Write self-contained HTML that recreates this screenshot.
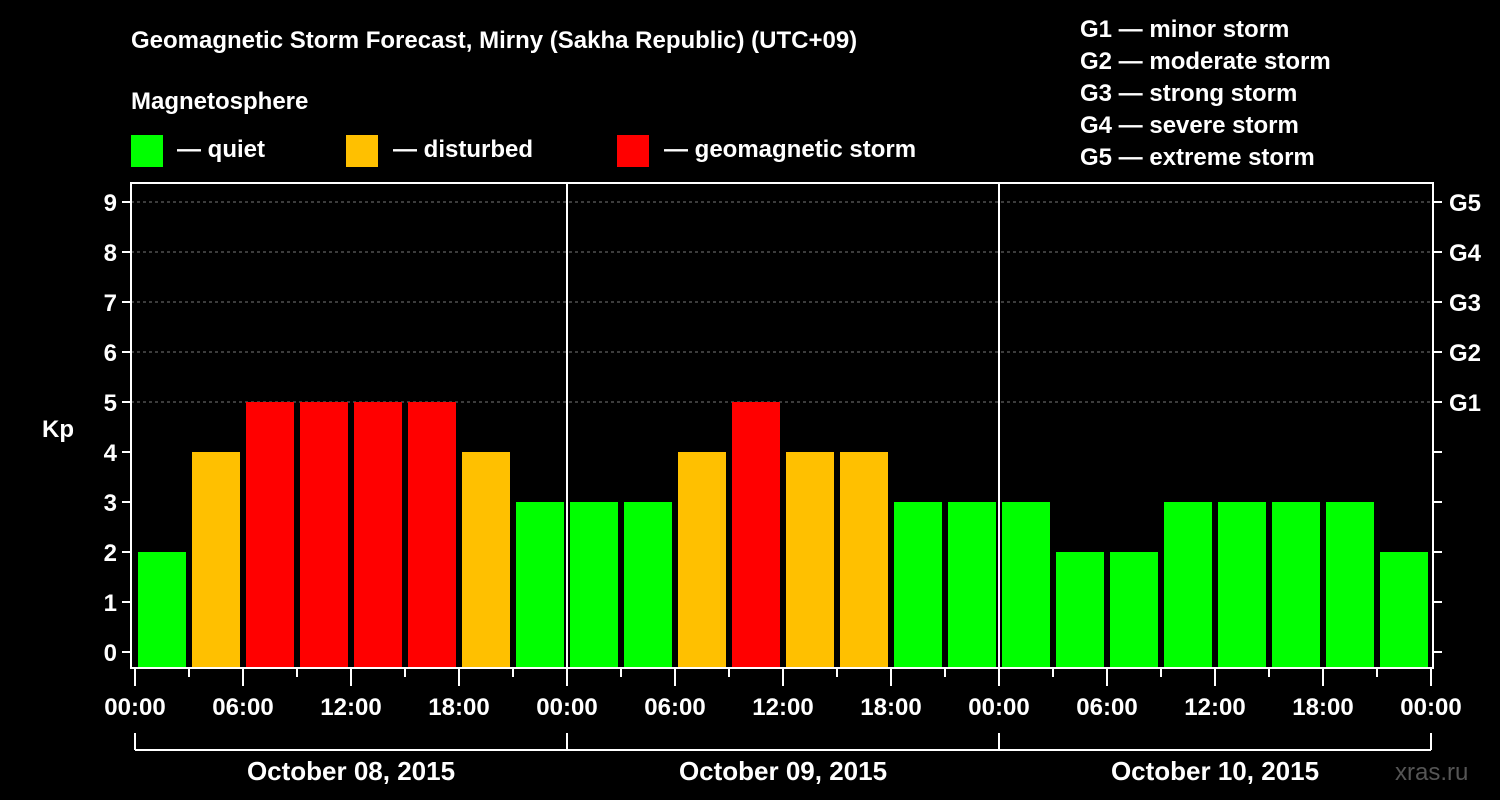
<!DOCTYPE html>
<html><head><meta charset="utf-8"><style>
body{margin:0;background:#000;width:1500px;height:800px;overflow:hidden}
svg{display:block}
text{font-family:"Liberation Sans",sans-serif;font-weight:bold;fill:#fff}
</style></head><body>
<svg id="c" width="1500" height="800">
<text x="131" y="48" font-size="24">Geomagnetic Storm Forecast, Mirny (Sakha Republic) (UTC+09)</text>
<text x="131" y="109" font-size="24">Magnetosphere</text>
<g>
<rect x="131" y="135" width="32" height="32" fill="#00ff00"/>
<text x="177" y="157" font-size="24">— quiet</text>
<rect x="346" y="135" width="32" height="32" fill="#ffc000"/>
<text x="393" y="157" font-size="24">— disturbed</text>
<rect x="617" y="135" width="32" height="32" fill="#ff0000"/>
<text x="664" y="157" font-size="24">— geomagnetic storm</text>
</g>
<g font-size="24">
<text x="1080" y="37">G1 — minor storm</text>
<text x="1080" y="69">G2 — moderate storm</text>
<text x="1080" y="101">G3 — strong storm</text>
<text x="1080" y="133">G4 — severe storm</text>
<text x="1080" y="165">G5 — extreme storm</text>
</g>
<text x="42" y="437" font-size="24">Kp</text>
<text x="1395" y="780" font-size="24" fill="#555" style="fill:#555;font-weight:normal">xras.ru</text>
<g id="plot"></g>
</svg>
<script>
const kpValues=[2,4,5,5,5,5,4,3, 3,3,4,5,4,4,3,3, 3,2,2,3,3,3,3,2];
const dayLabels=["October 08, 2015","October 09, 2015","October 10, 2015"];
const hourLabels=["00:00","06:00","12:00","18:00"];
const yTicks=[0,1,2,3,4,5,6,7,8,9];
const gLabels=["G1","G2","G3","G4","G5"];
const NS="http://www.w3.org/2000/svg";
const g=document.getElementById('plot');
const X0=135,PX_H=18,Y0=652,PX_K=50,BOT=668,TOP=183,L=131,R=1433;
const xs=h=>X0+h*PX_H, ys=v=>Y0-v*PX_K;
function mk(t,a){const e=document.createElementNS(NS,t);for(const k in a)e.setAttribute(k,a[k]);g.appendChild(e);return e;}
function col(v){return v>=5?'#ff0000':v>=4?'#ffc000':'#00ff00';}
// grid
for(let v=5;v<=9;v++){const e=mk('line',{x1:L,x2:R,y1:ys(v),y2:ys(v),stroke:'#777','stroke-dasharray':'3,3','stroke-width':1});

}
// bars
kpValues.forEach((v,i)=>{const b=mk('rect',{x:xs(i*3)+3,y:ys(v),width:3*PX_H-6,height:BOT-ys(v),fill:col(v)});

});
// day separators
for(let d=1;d<3;d++){const e=mk('line',{x1:xs(d*24),x2:xs(d*24),y1:TOP,y2:BOT,stroke:'#fff','stroke-width':2});

}
// frame
const fr=mk('rect',{x:L,y:TOP,width:R-L,height:BOT-TOP,fill:'none',stroke:'#fff','stroke-width':2});


// y ticks
yTicks.forEach(v=>{mk('line',{x1:L-9,x2:L,y1:ys(v),y2:ys(v),stroke:'#fff','stroke-width':2});
mk('line',{x1:R,x2:R+9,y1:ys(v),y2:ys(v),stroke:'#fff','stroke-width':2});
const t=mk('text',{x:L-14,y:ys(v)+9,'font-size':24,'text-anchor':'end'});t.textContent=v;

});
gLabels.forEach((s,i)=>{const t=mk('text',{x:R+16,y:ys(5+i)+9,'font-size':24});t.textContent=s;

});
// x ticks
for(let h=0;h<=72;h+=3){const major=h%6===0;mk('line',{x1:xs(h),x2:xs(h),y1:BOT,y2:BOT+(major?18:9),stroke:'#fff','stroke-width':2});}
for(let h=0;h<=72;h+=6){const t=mk('text',{x:xs(h),y:715,'font-size':24,'text-anchor':'middle'});t.textContent=hourLabels[(h/6)%4];

}
// day brackets
mk('line',{x1:xs(0),x2:xs(72),y1:750,y2:750,stroke:'#fff','stroke-width':2});
for(let d=0;d<=3;d++)mk('line',{x1:xs(d*24),x2:xs(d*24),y1:733,y2:750,stroke:'#fff','stroke-width':2});
dayLabels.forEach((s,d)=>{const t=mk('text',{x:xs(d*24+12),y:780,'font-size':26,'text-anchor':'middle'});t.textContent=s;

});
</script>
</body></html>
